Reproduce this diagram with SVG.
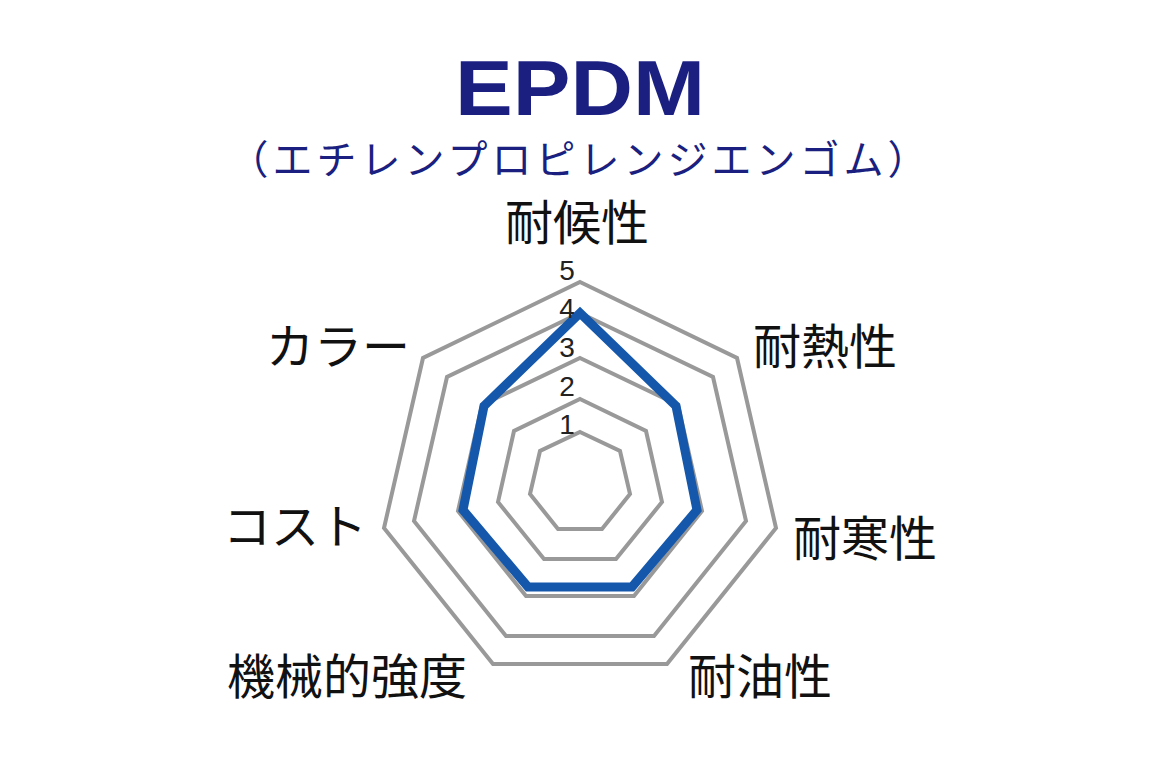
<svg xmlns="http://www.w3.org/2000/svg" width="1160" height="760" viewBox="0 0 1160 760">
<style>
.ring{fill:none;stroke:#999;stroke-width:4;stroke-linejoin:miter}
.lab{font-family:"Noto Sans CJK JP","Liberation Sans",sans-serif;font-size:48px;fill:#111}
.num{font-family:"Liberation Sans","Noto Sans",sans-serif;font-size:28px;fill:#222;text-anchor:middle}
</style>
<rect width="1160" height="760" fill="#fff"/>
<text x="580" y="115" text-anchor="middle" font-family="Liberation Sans,Arial,sans-serif" font-weight="bold" font-size="78" fill="#1a1f80" textLength="250" lengthAdjust="spacingAndGlyphs">EPDM</text>
<text x="580" y="174" text-anchor="middle" font-family="Noto Sans CJK JP,sans-serif" font-size="40" letter-spacing="4" fill="#1a1f80">（エチレンプロピレンジエンゴム）</text>
<g id="rings">
<polygon class="ring" points="580,282 737,358 776,528 667,664 493,664 384,528 423,358"/>
<polygon class="ring" points="580,313 713,377 746,521 654,636 506,636 414,521 447,377"/>
<polygon class="ring" points="580,358 678,405 702,511 634,596 526,596 458,511 482,405"/>
<polygon class="ring" points="580,399 646,431 662,502 616,559 544,559 498,502 514,431"/>
<polygon class="ring" points="580,432 620,451 630,494 602,529 558,529 530,494 540,451"/>
</g>
<g id="data">
<polygon points="580,313 676,406 697,510 632,587 528,587 463,510 484,406" fill="none" stroke="#1558ab" stroke-width="9" stroke-linejoin="miter"/>
</g>
<g id="scale">
<text class="num" x="567" y="280">5</text>
<text class="num" x="567" y="318">4</text>
<text class="num" x="567" y="357">3</text>
<text class="num" x="567" y="396">2</text>
<text class="num" x="567" y="434">1</text>
</g>
<g id="labels">
<text class="lab" x="577" y="240" text-anchor="middle">耐候性</text>
<text class="lab" x="753" y="364">耐熱性</text>
<text class="lab" x="793" y="556">耐寒性</text>
<text class="lab" x="688" y="694">耐油性</text>
<text class="lab" x="467" y="694" text-anchor="end">機械的強度</text>
<text class="lab" x="367" y="544" text-anchor="end">コスト</text>
<text class="lab" x="410" y="364" text-anchor="end">カラー</text>
</g>
</svg>
